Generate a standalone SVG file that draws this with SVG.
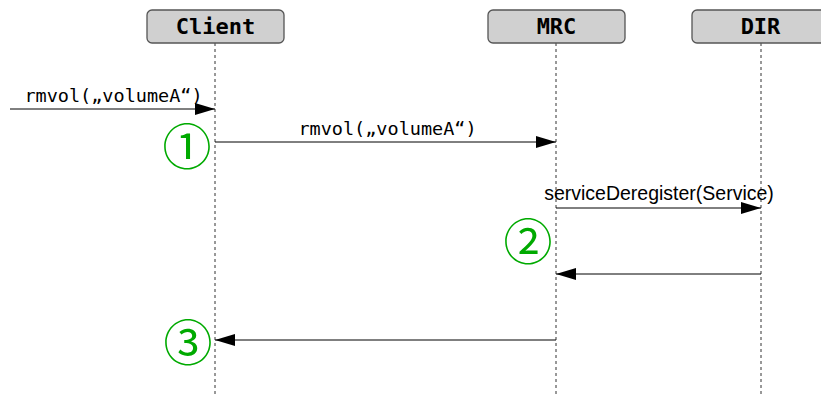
<svg xmlns="http://www.w3.org/2000/svg" width="821" height="394" viewBox="0 0 821 394">
<style>
.box{fill:#d0d0d0;stroke:#555;stroke-width:1.3}
.hd{font-family:"DejaVu Sans Mono",monospace;font-weight:bold;font-size:22px;text-anchor:middle;fill:#000}
.life{stroke:#333;stroke-width:1;stroke-dasharray:3,3}
.msg{stroke:#000;stroke-width:1;fill:none}
.lbl{font-family:"DejaVu Sans Mono",monospace;font-size:18.5px;text-anchor:middle;fill:#000}
.lbls{font-family:"Liberation Sans",Arial,sans-serif;font-size:19.5px;text-anchor:middle;fill:#000}
.num{font-family:"Noto Sans CJK JP","DejaVu Sans",sans-serif;font-size:49px;fill:#00aa00;text-anchor:middle}
</style>
<defs>
<marker id="ah" viewBox="0 0 20 12" refX="20" refY="6" markerWidth="20" markerHeight="12" markerUnits="userSpaceOnUse" orient="auto">
<path d="M0,0 L20,6 L0,12 Z" fill="#000"/>
</marker>
</defs>
<g id="lifelines">
<line class="life" x1="215" y1="43" x2="215" y2="394"/>
<line class="life" x1="556" y1="43" x2="556" y2="394"/>
<line class="life" x1="761" y1="43" x2="761" y2="394"/>
</g>
<g id="client"><rect class="box" x="147" y="10" width="137" height="33" rx="5"/><text class="hd" x="215.5" y="34">Client</text></g>
<g id="mrc"><rect class="box" x="488" y="10" width="137" height="33" rx="5"/><text class="hd" x="556.5" y="34">MRC</text></g>
<g id="dir"><rect class="box" x="692" y="10" width="137" height="33" rx="5"/><text class="hd" x="760.5" y="34">DIR</text></g>
<g id="connectors">
<line class="msg" x1="10" y1="109" x2="215" y2="109" marker-end="url(#ah)"/>
<text class="lbl" x="113.5" y="102">rmvol(„volumeA“)</text>
<line class="msg" x1="215" y1="142" x2="556" y2="142" marker-end="url(#ah)"/>
<text class="lbl" x="387.5" y="135">rmvol(„volumeA“)</text>
<line class="msg" x1="556" y1="208" x2="761" y2="208" marker-end="url(#ah)"/>
<text class="lbls" x="659" y="200">serviceDeregister(Service)</text>
<line class="msg" x1="761" y1="274" x2="556" y2="274" marker-end="url(#ah)"/>
<line class="msg" x1="556" y1="340" x2="215" y2="340" marker-end="url(#ah)"/>
</g>
<g id="numbers">
<text class="num" x="187" y="165">①</text>
<text class="num" x="528" y="260">②</text>
<text class="num" x="188" y="361">③</text>
</g>
</svg>
